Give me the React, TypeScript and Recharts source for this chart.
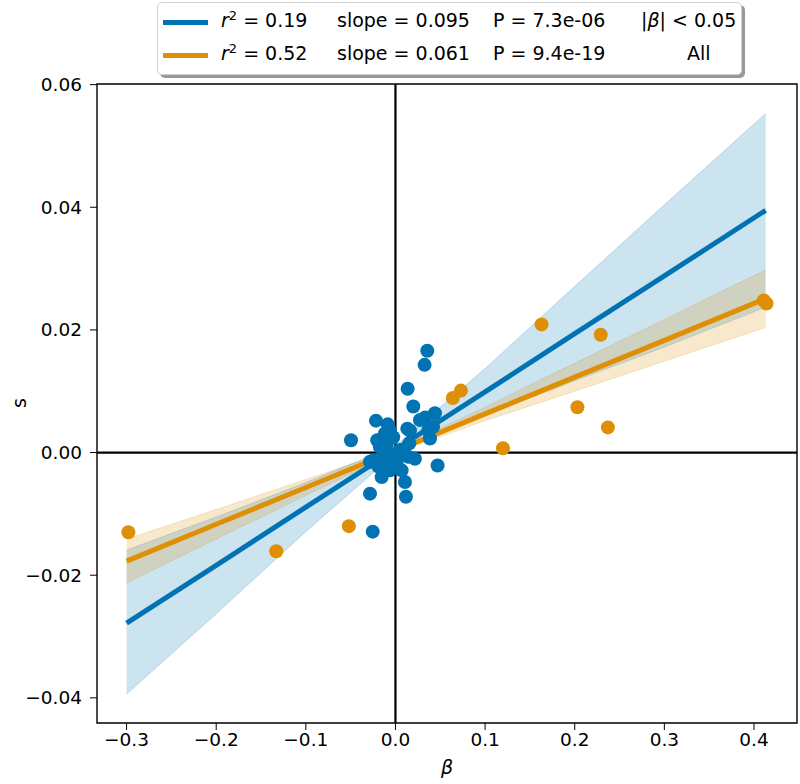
import {
  ComposedChart,
  XAxis,
  YAxis,
  Area,
  Line,
  Scatter,
  ReferenceLine,
  ReferenceArea,
} from 'recharts';

// points with |beta| < 0.05
const betaBlue = [
  0.0355, 0.0325, 0.0136, 0.0199, -0.0217, -0.0496, -0.0087, -0.0203, 0.044, 0.033,
  0.042, 0.0385, 0.0132, 0.0154, 0.0087, 0.0217, 0.047, -0.0136, -0.0284, -0.019,
  -0.0154, -0.0061, 0.0106, 0.0117, -0.0284, -0.0254, -0.0098, -0.0025, 0.005, 0.0013,
  -0.0117, -0.0247, 0.0162, 0.0273, 0.0366, 0.0069, -0.0098, -0.0025, 0.0143, -0.0173,
  -0.0061,
];
const sBlue = [
  0.0166, 0.0143, 0.0104, 0.0075, 0.0052, 0.002, 0.0046, 0.002, 0.0064, 0.0057,
  0.0042, 0.0023, 0.0039, 0.0015, -0.0002, -0.001, -0.0021, -0.0007, -0.0015, -0.0023,
  -0.004, -0.0029, -0.0048, -0.0072, -0.0067, -0.0129, 0.0012, 0.0025, 0.0004, -0.0018,
  0.0031, -0.0013, 0.0036, 0.0053, 0.0036, -0.0029, -0.0018, -0.0007, -0.0007, 0.0009,
  0.0036,
];

// all points (only the visible ones outside the cluster)
const betaOrange = [-0.298, -0.133, -0.052, 0.064, 0.073, 0.12, 0.163, 0.203, 0.229, 0.237, 0.411, 0.414];
const sOrange = [-0.013, -0.0161, -0.012, 0.0089, 0.0101, 0.0007, 0.0209, 0.0074, 0.0192, 0.0041, 0.0248, 0.0243];

// fitted lines and confidence bands
const fitBeta = [-0.3, -0.2, -0.1, 0, 0.1, 0.2, 0.3, 0.413];
const blueFit = [-0.0278, -0.0184, -0.0089, 0.0005, 0.0099, 0.0194, 0.0288, 0.0395];
const blueLo = [-0.0394, -0.0263, -0.0129, -0.0001, 0.0061, 0.0117, 0.0172, 0.0237];
const blueHi = [-0.0159, -0.0105, -0.0049, 0.0011, 0.0137, 0.0271, 0.0404, 0.0553];
const orangeFit = [-0.0177, -0.0117, -0.0057, 0.0003, 0.0063, 0.0123, 0.0183, 0.0251];
const orangeLo = [-0.0213, -0.0141, -0.007, 0.0, 0.0052, 0.01, 0.0149, 0.0204];
const orangeHi = [-0.0141, -0.0093, -0.0044, 0.0006, 0.0074, 0.0146, 0.0217, 0.0298];

const xTicks = [-0.3, -0.2, -0.1, 0, 0.1, 0.2, 0.3, 0.4];
const yTicks = [-0.04, -0.02, 0, 0.02, 0.04, 0.06];

const BLUE = '#0173B2';
const ORANGE = '#DE8F05';
const FONT = 'DejaVu Sans, sans-serif';
const X_DOMAIN = [-0.333, 0.448];
const Y_DOMAIN = [-0.0441, 0.0601];

const blueData = fitBeta.map((x, i) => ({ x, fit: blueFit[i], band: [blueLo[i], blueHi[i]] }));
const orangeData = fitBeta.map((x, i) => ({ x, fit: orangeFit[i], band: [orangeLo[i], orangeHi[i]] }));
const bluePts = betaBlue.map((x, i) => ({ x, y: sBlue[i] }));
const orangePts = betaOrange.map((x, i) => ({ x, y: sOrange[i] }));

const minus = (s: string) => s.replace('-', '\u2212');

const dot = (color: string) => (p: any) => <circle cx={p.cx} cy={p.cy} r={7} fill={color} />;

const LegendRow = ({ color, r2, slope, p, tag, top }: any) => (
  <div style={{ position: 'absolute', top, left: 0, width: '100%', height: 30 }}>
    <div style={{ position: 'absolute', left: 5, top: 13, width: 45, height: 5, background: color }} />
    <span style={{ position: 'absolute', left: 63, top: 2 }}>
      <i>r</i>
      <sup style={{ fontSize: 13, verticalAlign: 7, lineHeight: 0 }}>2</sup> = {r2}
    </span>
    <span style={{ position: 'absolute', left: 179, top: 2 }}>slope = {slope}</span>
    <span style={{ position: 'absolute', left: 335, top: 2 }}>P = {p}</span>
    <span style={{ position: 'absolute', left: tag === 'All' ? 529 : 483, top: 2 }}>
      {tag === 'All' ? 'All' : (
        <>
          |<i>β</i>| &lt; 0.05
        </>
      )}
    </span>
  </div>
);

export default function App() {
  return (
    <div style={{ position: 'absolute', left: 0, top: 0, width: 800, height: 784, background: '#fff', fontFamily: FONT }}>
      <ComposedChart width={800} height={784} margin={{ top: 84, right: 3, bottom: 0, left: 0 }}>
        <XAxis
          type="number"
          dataKey="x"
          domain={X_DOMAIN}
          ticks={xTicks}
          allowDataOverflow
          axisLine={false}
          tickSize={7}
          tickMargin={3}
          height={61}
          tickLine={{ stroke: '#000' }}
          tick={{ fill: '#000', fontSize: 18.5, fontFamily: FONT }}
          tickFormatter={(v: number) => minus(v.toFixed(1))}
          label={{
            content: () => (
              <text x={447} y={774} textAnchor="middle" fontSize={19} fontStyle="italic" fontFamily={FONT} fill="#000">
                β
              </text>
            ),
          }}
        />
        <YAxis
          type="number"
          domain={Y_DOMAIN}
          ticks={yTicks}
          allowDataOverflow
          axisLine={false}
          width={97}
          tickSize={7}
          tickMargin={8}
          tickLine={{ stroke: '#000' }}
          tick={{ fill: '#000', fontSize: 18.5, fontFamily: FONT }}
          tickFormatter={(v: number) => minus(v.toFixed(2))}
          label={{
            content: () => (
              <text x={20} y={403} transform="rotate(-90 20 403)" textAnchor="middle" dominantBaseline="middle" fontSize={19} fontFamily={FONT} fill="#000">
                s
              </text>
            ),
          }}
        />
        <ReferenceLine x={0} stroke="#000" strokeWidth={2.2} />
        <ReferenceLine y={0} stroke="#000" strokeWidth={2.2} />
        <Area
          data={blueData}
          dataKey="band"
          type="linear"
          fill={BLUE}
          fillOpacity={0.2}
          stroke={BLUE}
          strokeOpacity={0.2}
          isAnimationActive={false}
        />
        <Area
          data={orangeData}
          dataKey="band"
          type="linear"
          fill={ORANGE}
          fillOpacity={0.2}
          stroke={ORANGE}
          strokeOpacity={0.2}
          isAnimationActive={false}
        />
        <Line data={orangeData} dataKey="fit" type="linear" stroke={ORANGE} strokeWidth={5} dot={false} isAnimationActive={false} />
        <Line data={blueData} dataKey="fit" type="linear" stroke={BLUE} strokeWidth={5} dot={false} isAnimationActive={false} />
        <Scatter data={orangePts} dataKey="y" shape={dot(ORANGE)} isAnimationActive={false} />
        <Scatter data={bluePts} dataKey="y" shape={dot(BLUE)} isAnimationActive={false} />
        <ReferenceArea
          x1={X_DOMAIN[0]}
          x2={X_DOMAIN[1]}
          y1={Y_DOMAIN[0]}
          y2={Y_DOMAIN[1]}
          fill="none"
          fillOpacity={0}
          stroke="#000"
          strokeWidth={1.4}
        />
      </ComposedChart>
      <div
        style={{
          position: 'absolute',
          left: 157,
          top: 2,
          width: 583,
          height: 71,
          background: 'rgba(255,255,255,0.9)',
          border: '1px solid #d0d0d0',
          borderRadius: 5,
          boxShadow: '3px 3px 0 rgba(110,110,110,0.7)',
          fontSize: 19,
          color: '#000',
          fontFamily: FONT,
        }}
      >
        <LegendRow color={BLUE} r2="0.19" slope="0.095" p="7.3e-06" tag="beta" top={4} />
        <LegendRow color={ORANGE} r2="0.52" slope="0.061" p="9.4e-19" tag="All" top={37} />
      </div>
    </div>
  );
}
